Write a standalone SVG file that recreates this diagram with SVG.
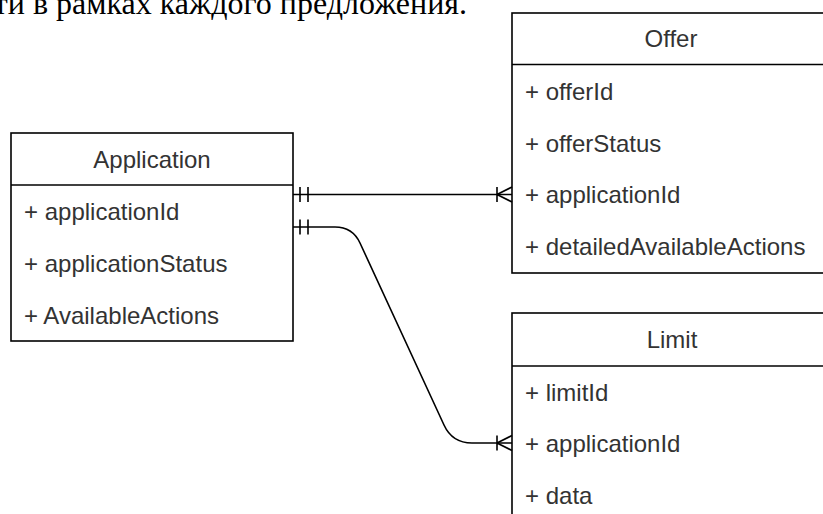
<svg xmlns="http://www.w3.org/2000/svg" width="823" height="514" viewBox="0 0 823 514">
<style>
.box{fill:#fff;stroke:#000;stroke-width:1.6}
.sep{stroke:#000;stroke-width:1.6}
.t{font-family:"Liberation Sans",Arial,sans-serif;font-size:24px;fill:#333}
.h{text-anchor:middle}
.c{fill:none;stroke:#000;stroke-width:1.6}
.top{font-family:"Liberation Serif","Times New Roman",serif;font-size:32px;fill:#000}
</style>
<rect width="823" height="514" fill="#fff"/>
<text class="top" x="467" y="13.5" text-anchor="end">ти в рамках каждого предложения.</text>
<g id="application">
<rect class="box" x="11" y="133" width="282" height="208"/>
<line class="sep" x1="11" y1="185" x2="293" y2="185"/>
<text class="t h" x="152" y="168">Application</text>
<text class="t" x="24" y="220">+ applicationId</text>
<text class="t" x="24" y="272">+ applicationStatus</text>
<text class="t" x="24" y="324">+ AvailableActions</text>
</g>
<g id="offer">
<rect class="box" x="512" y="13" width="330" height="260"/>
<line class="sep" x1="512" y1="64.5" x2="842" y2="64.5"/>
<text class="t h" x="671" y="47">Offer</text>
<text class="t" x="525" y="100">+ offerId</text>
<text class="t" x="525" y="152">+ offerStatus</text>
<text class="t" x="525" y="203">+ applicationId</text>
<text class="t" x="525" y="255">+ detailedAvailableActions</text>
</g>
<g id="limit">
<rect class="box" x="512" y="313" width="330" height="230"/>
<line class="sep" x1="512" y1="366" x2="842" y2="366"/>
<text class="t h" x="672" y="348">Limit</text>
<text class="t" x="525" y="401">+ limitId</text>
<text class="t" x="525" y="452">+ applicationId</text>
<text class="t" x="525" y="504">+ data</text>
</g>
<g id="connectors">
<path class="c" d="M293,194.5 H512"/>
<path class="c" d="M300,187 V202 M308,187 V202"/>
<path class="c" d="M497,187 V202 M497,194.5 L512,187 M497,194.5 L512,202"/>
<path class="c" d="M293,227 H335 Q352.6,227 360,243 L444,425 Q452.2,443 472,443 H512"/>
<path class="c" d="M300,219.5 V234.5 M308,219.5 V234.5"/>
<path class="c" d="M497,435.5 V450.5 M497,443 L512,435.5 M497,443 L512,450.5"/>
</g>
</svg>
